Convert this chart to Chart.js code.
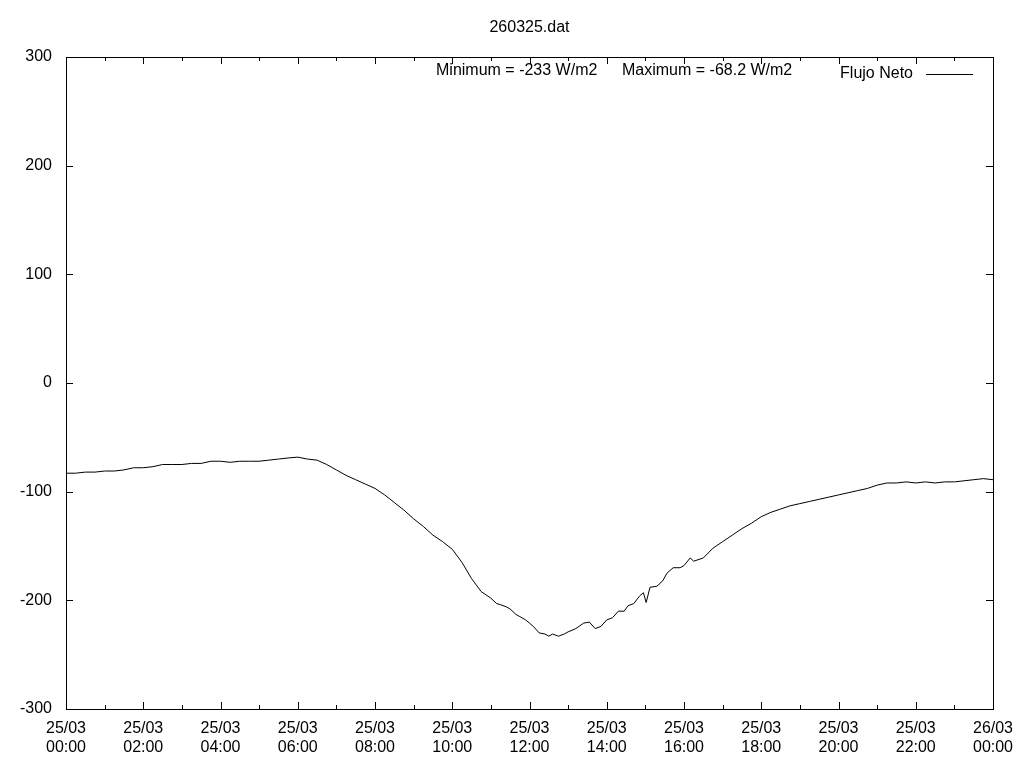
<!doctype html>
<html lang="en">
  <head>
    <meta charset="utf-8">
    <title>260325.dat</title>
    <script src="https://cdn.jsdelivr.net/npm/chart.js"></script>
    <style>
      html, body { margin: 0; padding: 0; background: #fff; }
      #wrap { width: 1024px; height: 768px; }
    </style>
  </head>
  <body>
    <div id="wrap"><canvas id="fluxChart" width="1024" height="768"></canvas></div>
    <script>
      const chartTitle = '260325.dat';
      const seriesLabel = 'Flujo Neto';
      const statsText = ['Minimum = -233 W/m2', 'Maximum = -68.2 W/m2'];

      // hours since 25/03 00:00
      const hours = [
        0, 0.25, 0.5, 0.75, 1, 1.25, 1.5, 1.75, 2, 2.25, 2.5, 2.75, 3, 3.25, 3.5, 3.75,
        4, 4.25, 4.5, 4.75, 5, 5.25, 5.5, 5.75, 6, 6.25, 6.5, 6.75, 7, 7.25, 7.5, 7.75,
        8, 8.25, 8.5, 8.75, 9, 9.25, 9.5, 9.75, 10, 10.25, 10.5, 10.75, 11, 11.15, 11.25,
        11.4, 11.5, 11.65, 11.75, 11.9, 12, 12.1, 12.25, 12.4, 12.5, 12.6, 12.75, 12.9,
        13, 13.2, 13.4, 13.55, 13.7, 13.85, 14, 14.15, 14.3, 14.45, 14.55, 14.7, 14.85,
        14.95, 15.02, 15.12, 15.3, 15.45, 15.56, 15.72, 15.9, 16, 16.16, 16.25, 16.5,
        16.75, 17, 17.25, 17.5, 17.75, 18, 18.25, 18.5, 18.75, 19, 19.25, 19.5, 19.75,
        20, 20.25, 20.5, 20.75, 21, 21.25, 21.5, 21.75, 22, 22.25, 22.5, 22.75, 23,
        23.25, 23.5, 23.75, 24
      ];
      // W/m2
      const flux = [
        -83, -83, -82, -82, -81, -81, -80, -78, -78, -77, -75, -75, -75, -74, -74, -72,
        -72, -73, -72, -72, -72, -71, -70, -69, -68.2, -70, -71, -75, -80, -85, -89, -93,
        -97, -103, -110, -117, -125, -132, -140, -146, -153, -165, -180, -192, -198, -203, -204,
        -206, -208, -213, -215, -218, -221, -224, -230, -231, -233, -231, -233, -231,
        -229, -226, -221, -220, -226, -224, -218, -216, -210, -210, -205, -203, -196,
        -193, -202, -188, -187, -182, -175, -170, -170, -168, -161, -164, -161,
        -152, -146, -140, -134, -129, -123, -119, -116, -113, -111, -109, -107, -105,
        -103, -101, -99, -97, -94, -92, -92, -91, -92, -91, -92, -91, -91,
        -90, -89, -88, -89
      ];

      const xTickLabels = {
        0: ['25/03', '00:00'], 2: ['25/03', '02:00'], 4: ['25/03', '04:00'],
        6: ['25/03', '06:00'], 8: ['25/03', '08:00'], 10: ['25/03', '10:00'],
        12: ['25/03', '12:00'], 14: ['25/03', '14:00'], 16: ['25/03', '16:00'],
        18: ['25/03', '18:00'], 20: ['25/03', '20:00'], 22: ['25/03', '22:00'],
        24: ['26/03', '00:00']
      };

      const FONT = "'Liberation Sans', Arial, sans-serif";

      // gnuplot-style frame, inward ticks on all four sides, labels inside the plot
      const framePlugin = {
        id: 'frame',
        afterDraw(chart) {
          const ctx = chart.ctx;
          const a = chart.chartArea;
          const xs = chart.scales.x;
          const ys = chart.scales.y;
          ctx.save();
          ctx.strokeStyle = '#000';
          ctx.lineWidth = 1;
          ctx.strokeRect(Math.round(a.left) + 0.5, Math.round(a.top) + 0.5,
                         Math.round(a.right - a.left), Math.round(a.bottom - a.top));
          ctx.beginPath();
          for (let h = 0; h <= 24; h++) {
            const px = Math.round(xs.getPixelForValue(h)) + 0.5;
            const len = h % 2 === 0 ? 7 : 4;
            ctx.moveTo(px, a.bottom); ctx.lineTo(px, a.bottom - len);
            ctx.moveTo(px, a.top); ctx.lineTo(px, a.top + len);
          }
          for (let v = -300; v <= 300; v += 100) {
            const py = Math.round(ys.getPixelForValue(v)) + 0.5;
            ctx.moveTo(a.left, py); ctx.lineTo(a.left + 7, py);
            ctx.moveTo(a.right, py); ctx.lineTo(a.right - 7, py);
          }
          ctx.stroke();

          ctx.fillStyle = '#000';
          ctx.font = '16px ' + FONT;
          ctx.textBaseline = 'middle';
          ctx.textAlign = 'center';
          ctx.fillText(chartTitle, (a.left + a.right) / 2, 28);
          ctx.textAlign = 'left';
          ctx.fillText(statsText[0], 436, 71);
          ctx.fillText(statsText[1], 622, 71);
          ctx.textAlign = 'right';
          ctx.fillText(chart.data.datasets[0].label, 913, 74);
          ctx.beginPath();
          ctx.moveTo(926, 74.5); ctx.lineTo(973, 74.5);
          ctx.stroke();
          ctx.restore();
        }
      };

      const ctx = document.getElementById('fluxChart').getContext('2d');
      new Chart(ctx, {
        type: 'line',
        data: {
          datasets: [{
            label: seriesLabel,
            data: hours.map((h, i) => ({ x: h, y: flux[i] })),
            borderColor: '#000',
            borderWidth: 1,
            pointRadius: 0,
            tension: 0,
            fill: false
          }]
        },
        options: {
          responsive: false,
          animation: false,
          layout: { padding: { top: 57, right: 31, left: 0, bottom: 0 } },
          plugins: {
            legend: { display: false },
            title: { display: false },
            tooltip: { enabled: false }
          },
          scales: {
            x: {
              type: 'linear',
              min: 0,
              max: 24,
              afterFit: s => { s.height = 59; },
              grid: { display: false },
              border: { display: false },
              ticks: {
                stepSize: 2,
                maxRotation: 0,
                autoSkip: false,
                padding: 2,
                color: '#000',
                font: { family: FONT, size: 16, lineHeight: 1.2 },
                callback: v => xTickLabels[v] || ''
              }
            },
            y: {
              min: -300,
              max: 300,
              afterFit: s => { s.width = 66; },
              grid: { display: false },
              border: { display: false },
              ticks: {
                stepSize: 100,
                padding: 6,
                color: '#000',
                font: { family: FONT, size: 16 }
              }
            }
          }
        },
        plugins: [framePlugin]
      });
    </script>
  </body>
</html>
